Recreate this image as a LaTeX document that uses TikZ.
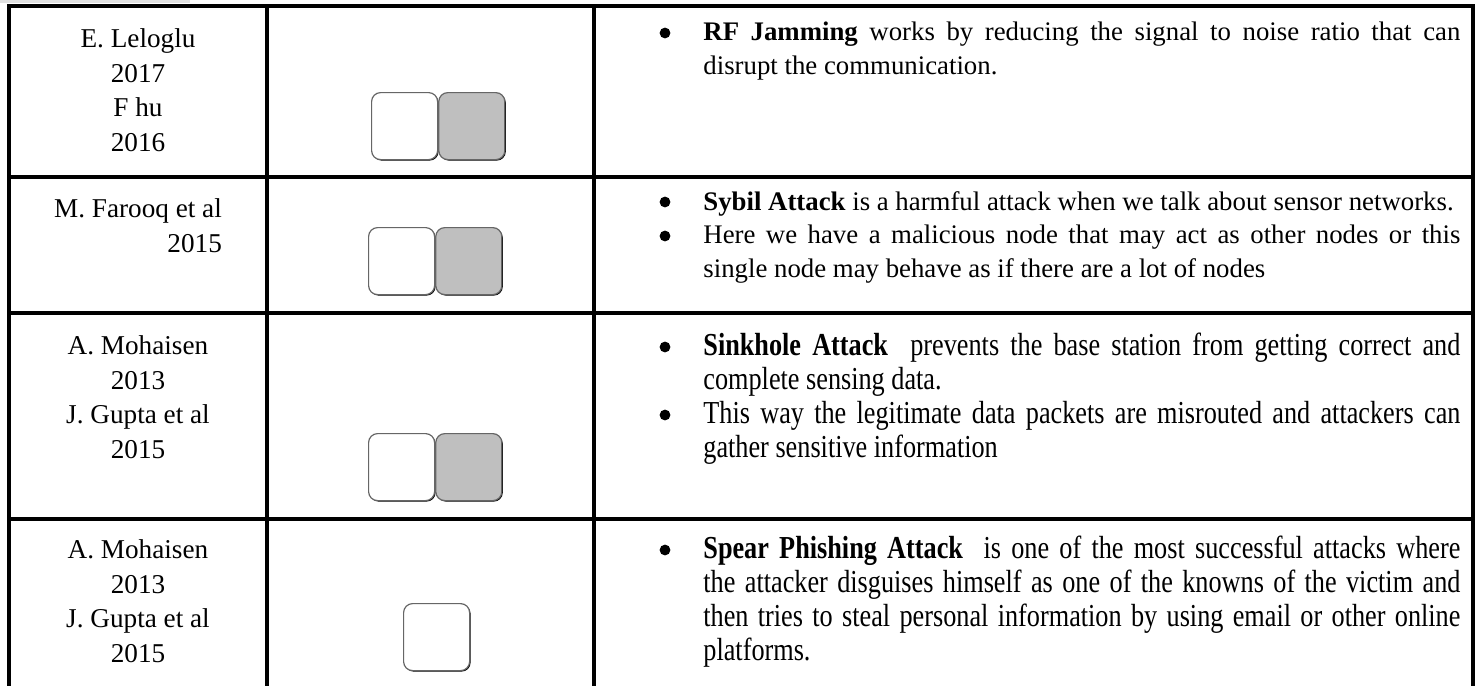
\documentclass[tikz,border=0pt]{standalone}
\usepackage{fontspec}
\setmainfont{Liberation Serif}
\newfontfamily\narrowfont[FakeStretch=0.82]{Liberation Serif}
\usetikzlibrary{positioning,shadows}

\tikzset{
	rule/.style={line width=1.6pt, line cap=rect},
	cell/.style={anchor=north, align=center, inner sep=0pt, font=\fontsize{13.6}{17.4}\selectfont},
	para/.style={anchor=north west, text width=378.5pt, align=justify, inner sep=0pt, font=\fontsize{13.4}{17}\selectfont},
	narrowpara/.style={para, font=\narrowfont\fontsize{16}{17}\selectfont},
	dot/.style={circle, fill=black, inner sep=0pt, minimum size=5.4pt},
	tickbox/.style={draw=black!60, line width=0.6pt, rounded corners=4.5pt, fill=white,
		minimum width=33pt, minimum height=33.5pt, inner sep=0pt,
		drop shadow={shadow xshift=0.5pt, shadow yshift=-0.5pt, fill=black, opacity=1}},
	greybox/.style={tickbox, fill=black!25}
}

\begin{document}
\begin{tikzpicture}[x=0.5pt, y=-0.5pt]
	\useasboundingbox (0,0) rectangle (1481,685);
	\fill[black!12] (0,0) rectangle (190,3);

	\draw[rule] (9,6) -- (1473,6);
	\draw[rule] (9,177) -- (1473,177);
	\draw[rule] (9,313) -- (1473,313);
	\draw[rule] (9,519) -- (1473,519);
	\foreach \x in {9,267,594,1473}
		\draw[rule] (\x,6) -- (\x,690);

	\node[cell] (lel) at (138,28) {E. Leloglu\\2017\\F hu\\2016};
	\node[cell, align=right] (far) at (138,198) {M. Farooq et al\\2015};
	\node[cell] (moh1) at (138,335) {A. Mohaisen\\2013\\J. Gupta et al\\2015};
	\node[cell] (moh2) at (138,539) {A. Mohaisen\\2013\\J. Gupta et al\\2015};

	\node[tickbox, anchor=north west] (w1) at (371,92) {};
	\node[greybox, right=0pt of w1] (g1) {};
	\node[tickbox, anchor=north west] (w2) at (368,227) {};
	\node[greybox, right=0pt of w2] (g2) {};
	\node[tickbox, anchor=north west] (w3) at (368,433) {};
	\node[greybox, right=0pt of w3] (g3) {};
	\node[tickbox, anchor=north west] (w4) at (403,603) {};

	\node[dot] (d1) at (665,33) {};
	\node[para] (rf) at (703,22) {\textbf{RF Jamming} works by reducing the signal to noise ratio that can\linebreak disrupt the communication.};

	\node[dot] (d2) at (665,202) {};
	\node[para] (syb) at (703,191) {\textbf{Sybil Attack} is a harmful attack when we talk about sensor networks.};
	\node[dot] (d3) at (665,236) {};
	\node[para] (syb2) at (703,225) {Here we have a malicious node that may act as other nodes or this\linebreak single node may behave as if there are a lot of nodes};

	\node[dot] (d4) at (665,347) {};
	\node[narrowpara] (sink) at (703,333) {\textbf{Sinkhole Attack}\ \ prevents the base station from getting correct and\linebreak complete sensing data.};
	\node[dot] (d5) at (665,415) {};
	\node[narrowpara] (sink2) at (703,401) {This way the legitimate data packets are misrouted and attackers can\linebreak gather sensitive information};

	\node[dot] (d6) at (665,550) {};
	\node[narrowpara] (spear) at (703,536) {\textbf{Spear Phishing Attack}\ \ is one of the most successful attacks where\linebreak the attacker disguises himself as one of the knowns of the victim and\linebreak then tries to steal personal information by using email or other online\linebreak platforms.};
\end{tikzpicture}
\end{document}
